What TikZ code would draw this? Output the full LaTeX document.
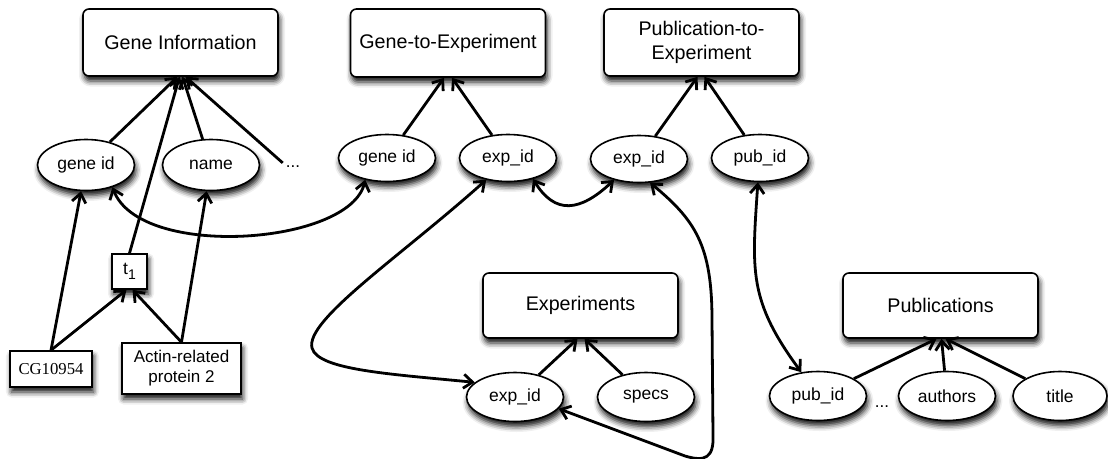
\documentclass[tikz,border=0pt]{standalone}
\usepackage{fontspec}
\setmainfont{Liberation Sans}
\newfontfamily\serifface{Liberation Serif}
\usetikzlibrary{arrows.meta,shapes.geometric,shadows.blur}

\begin{document}
\begin{tikzpicture}[x=1pt,y=-1pt,
  softshadow/.style={blur shadow={shadow xshift=1.5pt,shadow yshift=-5pt,shadow blur radius=5.5pt,shadow opacity=95}},
  tablebox/.style={draw,line width=1.6pt,rounded corners=6pt,fill=white,align=center,inner sep=0pt,
    minimum width=195pt,minimum height=67pt,font=\fontsize{19.7}{23.5}\selectfont,softshadow},
  fieldoval/.style={draw,ellipse,line width=1.6pt,fill=white,inner sep=0pt,
    minimum width=97pt,minimum height=47pt,font=\fontsize{17.5}{20}\selectfont,softshadow},
  valuebox/.style={draw,rectangle,line width=1.6pt,fill=white,inner sep=0pt,align=center,softshadow},
  ellipsis/.style={inner sep=3pt,font=\fontsize{17}{20}\selectfont},
  link/.style={line width=2.8pt,-{Straight Barb[length=9pt,width=14pt]}},
  duallink/.style={line width=2.8pt,{Straight Barb[length=9pt,width=14pt]}-{Straight Barb[length=9pt,width=14pt]}},
]
\useasboundingbox (0,0) rectangle (1108,458);

% tables
\node[tablebox] (gi) at (180.5,42.5) {Gene Information};
\node[tablebox,minimum height=68pt] (g2e) at (448,43) {Gene-to-Experiment};
\node[tablebox] (p2e) at (701.5,42.5) {Publication-to-\\Experiment};
\node[tablebox,minimum height=65pt] (exps) at (580.5,305.5) {Experiments};
\node[tablebox,minimum height=65pt] (pubs) at (940.5,305.5) {Publications};

% attributes
\node[fieldoval,minimum height=51pt] (gid1) at (86,165) {gene id};
\node[fieldoval,minimum height=51pt] (name) at (211,165) {name};
\node[ellipsis] (dots1) at (293,167) {...};
\node[fieldoval] (gid2) at (387,158) {gene id};
\node[fieldoval] (ge) at (508,158) {exp\_id};
\node[fieldoval] (pe) at (639,159) {exp\_id};
\node[fieldoval] (pp) at (760,158) {pub\_id};
\node[fieldoval,minimum height=49pt] (ee) at (515,397) {exp\_id};
\node[fieldoval,minimum height=49pt] (specs) at (646,397) {specs};
\node[fieldoval,minimum height=49pt] (pb) at (818,396) {pub\_id};
\node[ellipsis] (dots2) at (882,407) {...};
\node[fieldoval,minimum height=49pt] (authors) at (947,396) {authors};
\node[fieldoval,minimum height=49pt,minimum width=94pt] (title) at (1060,396) {title};

% values
\node[valuebox,minimum width=35pt,minimum height=35pt,font=\fontsize{17.5}{20}\selectfont] (t1) at (129.5,271.5)
  {t\raisebox{-5pt}{\fontsize{14}{14}\selectfont 1}};
\node[valuebox,minimum width=82pt,minimum height=36pt,font=\serifface\fontsize{16.7}{20}\selectfont] (cg) at (51,369) {CG10954};
\node[valuebox,minimum width=119pt,minimum height=51pt,font=\fontsize{17}{20}\selectfont] (actin) at (181.5,368.5) {Actin-related\\protein 2};

% attribute-to-table links
\draw[link] (gid1) -- ([xshift=-3pt]gi.south);
\draw[link] (t1.north) -- ([xshift=-1pt]gi.south);
\draw[link] (name) -- ([xshift=2pt]gi.south);
\draw[link] (dots1.north west) -- ([xshift=5pt]gi.south);
\draw[link] (gid2) -- ([xshift=-4pt]g2e.south);
\draw[link] (ge) -- ([xshift=4pt]g2e.south);
\draw[link] (pe) -- ([xshift=-4pt]p2e.south);
\draw[link] (pp) -- ([xshift=3pt]p2e.south);
\draw[link] (ee) -- ([xshift=-3pt]exps.south);
\draw[link] (specs) -- ([xshift=4pt]exps.south);
\draw[link] (pb) -- ([xshift=-4pt]pubs.south);
\draw[link] (authors) -- ([xshift=1pt]pubs.south);
\draw[link] (title) -- ([xshift=5pt]pubs.south);

% values
\draw[link] (cg.north) -- (gid1);
\draw[link] (cg.north) -- ([xshift=-3pt]t1.south);
\draw[link] (actin.north) -- ([xshift=3pt]t1.south);
\draw[link] (actin.north) -- (name);

% joins between key attributes
\draw[duallink] (gid1.-40) .. controls (140,260) and (350,245) .. (gid2.-135);
\draw[duallink] (ge.-40) .. controls (555,215) and (580,212) .. (pe.-140);
\draw[duallink] (ge.-135) .. controls (400,257) and (305,320) .. (312,348)
  .. controls (318,370) and (390,374) .. (ee.160);
\draw[duallink] (pe.-65) .. controls (695,220) and (712,245) .. (712,320) -- (713,435)
  .. controls (714,458) and (705,462) .. (685,456) -- (ee.-15);
\draw[duallink] (pp.-95) .. controls (752,270) and (748,300) .. (pb.125);
\end{tikzpicture}
\end{document}
